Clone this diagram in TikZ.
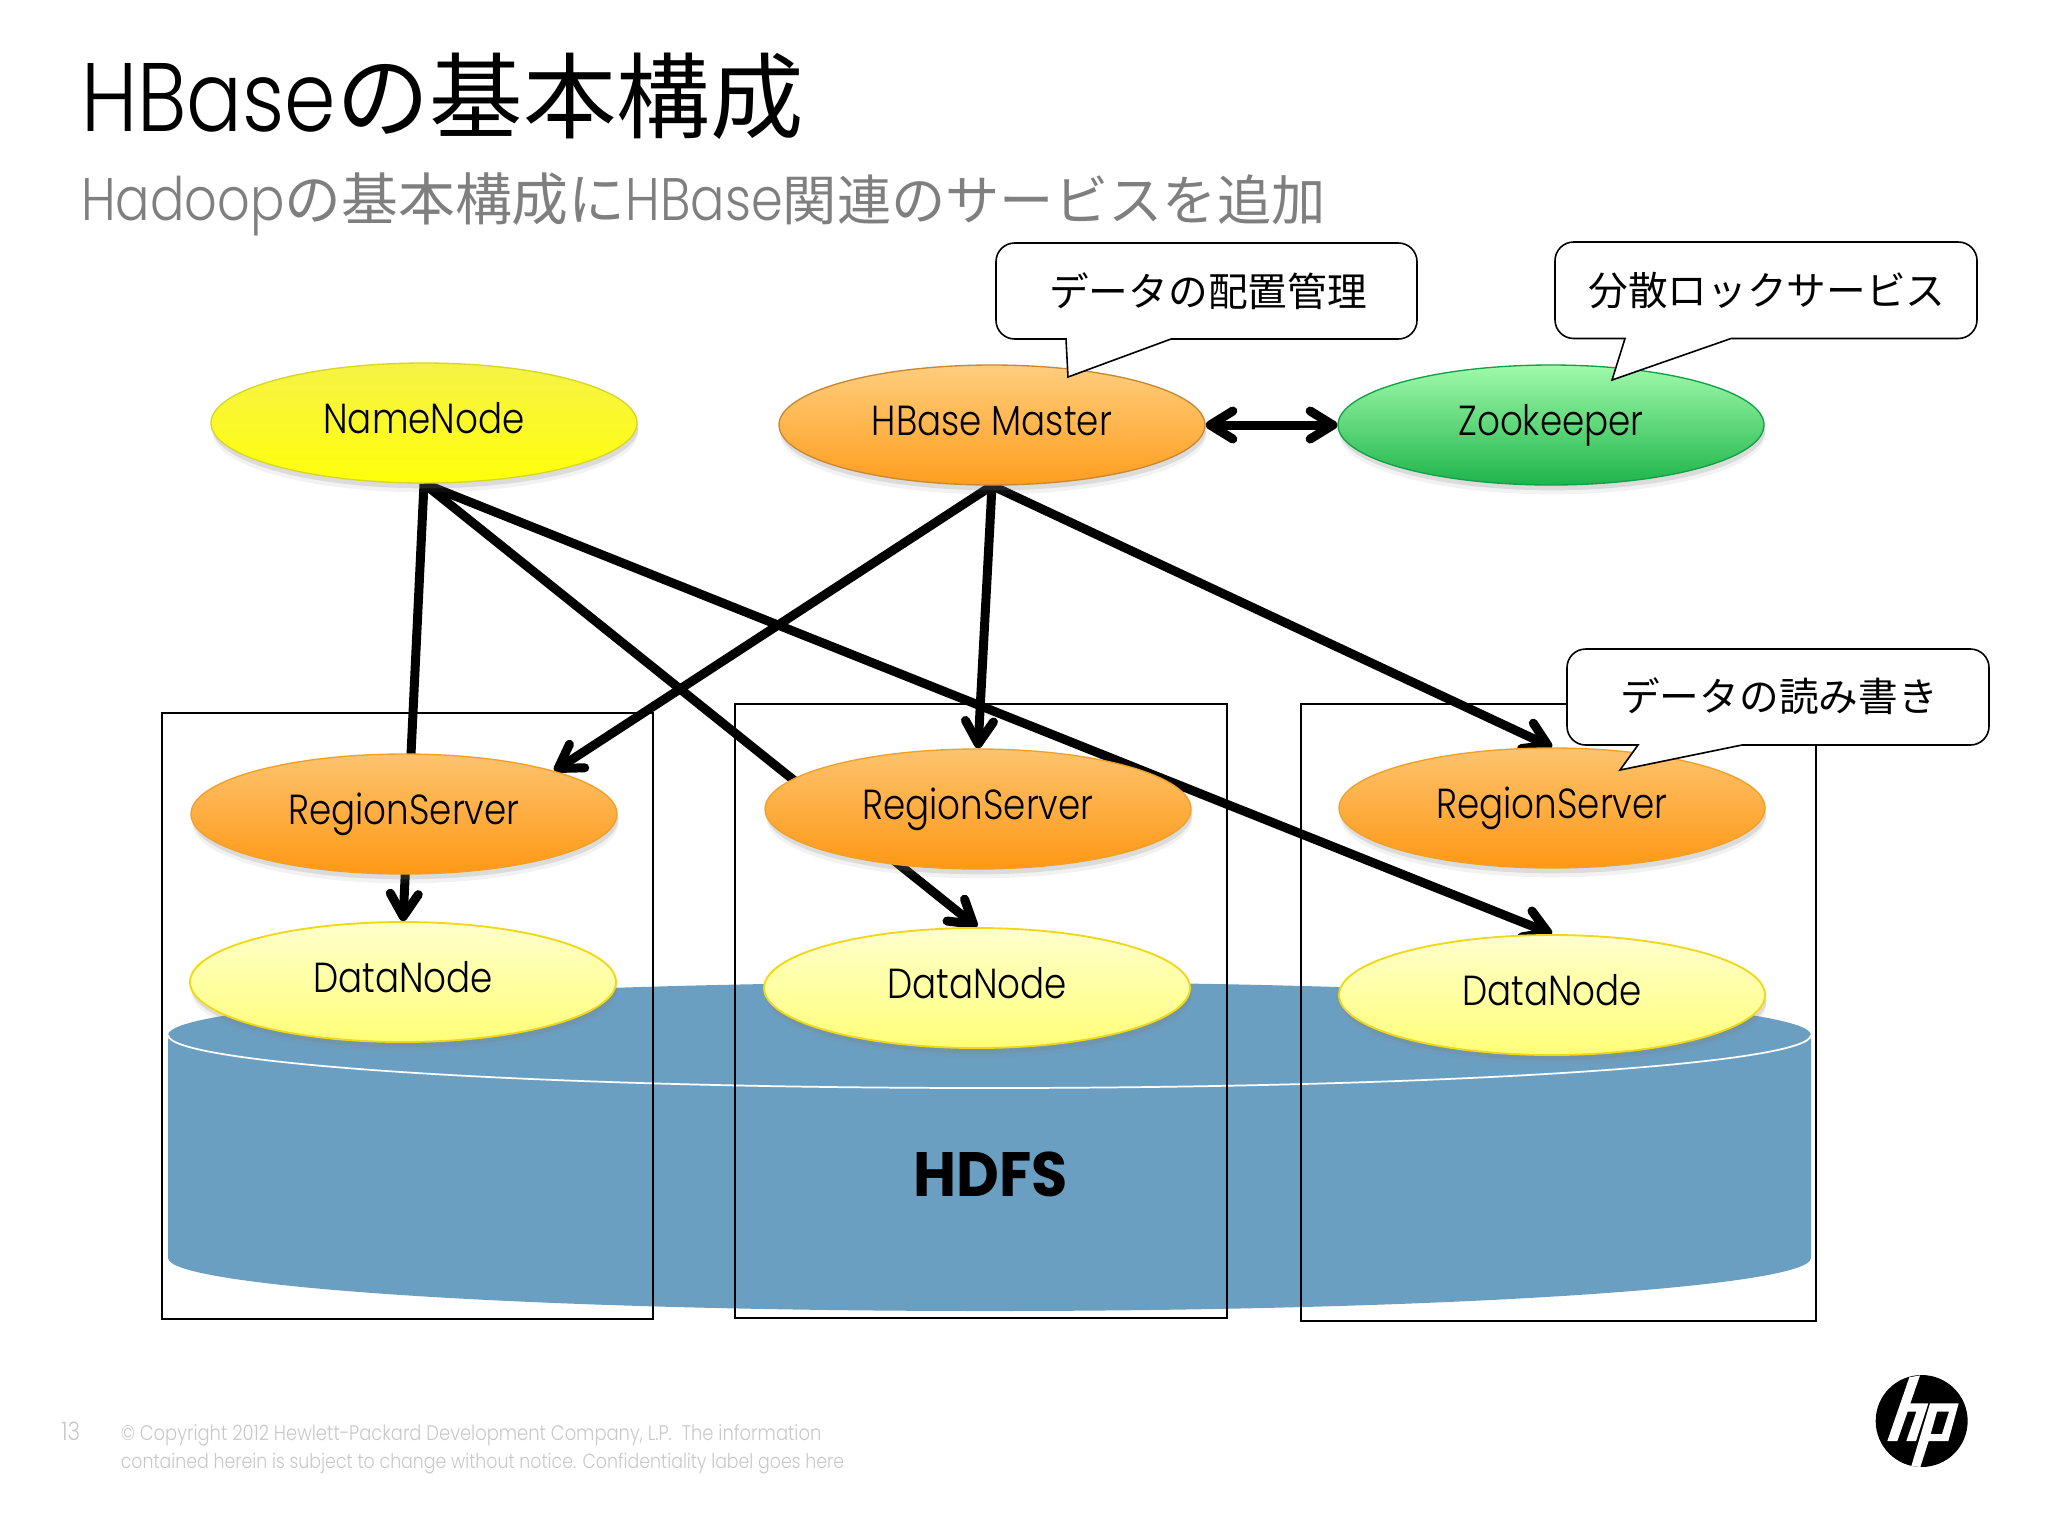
\documentclass[tikz,border=0pt]{standalone}
\usepackage{fontspec}
\setmainfont{Poppins}[UprightFont=* Light,FakeStretch=0.85]
\newfontfamily\hdfsfont{Poppins}[UprightFont=* Bold,FakeStretch=0.94]
\newfontfamily\jpfont{Noto Sans CJK JP}[Scale=0.96]
\usetikzlibrary{arrows.meta,shapes.geometric,shadows,backgrounds}
\definecolor{hdfsblue}{HTML}{6B9FC2}
\definecolor{subgray}{HTML}{7F7F7F}
\definecolor{footgray}{HTML}{C8C8C8}
\tikzset{
  barb/.tip={Straight Barb[length=17pt,width=21pt,round]},
  service/.style={ellipse,minimum width=319.5pt,minimum height=90pt,inner sep=0pt,line width=1pt,
    font=\fontsize{31.5}{36}\selectfont,text height=23.3pt,text depth=7pt,
    drop shadow={shadow xshift=1pt,shadow yshift=-7pt,opacity=0.1},
    drop shadow={shadow xshift=1pt,shadow yshift=-4pt,opacity=0.2}},
  namestyle/.style={service,draw={rgb,255:red,214;green,214;blue,40},top color={rgb,255:red,246;green,242;blue,70},bottom color={rgb,255:red,255;green,255;blue,10}},
  masterstyle/.style={service,draw={rgb,255:red,200;green,135;blue,50},top color={rgb,255:red,255;green,205;blue,125},bottom color={rgb,255:red,255;green,158;blue,30}},
  regionstyle/.style={service,draw={rgb,255:red,240;green,160;blue,40},top color={rgb,255:red,253;green,195;blue,110},bottom color={rgb,255:red,255;green,152;blue,20}},
  datastyle/.style={service,line width=1.4pt,draw={rgb,255:red,240;green,216;blue,24},top color={rgb,255:red,255;green,255;blue,205},bottom color={rgb,255:red,255;green,255;blue,120}},
  zoostyle/.style={service,draw={rgb,255:red,16;green,160;blue,70},top color={rgb,255:red,160;green,250;blue,170},bottom color={rgb,255:red,30;green,180;blue,75}},
  flowarrow/.style={line width=6.75pt,-barb},
  callbox/.style={draw=black,fill=white,line width=1.2pt},
  calltext/.style={inner sep=0pt,font=\fontsize{31}{36}\jpfont},
  groupbox/.style={draw=black,line width=1.3pt},
  foottext/.style={anchor=base west,inner sep=0pt,text=footgray}
}

\begin{document}
\begin{tikzpicture}[x=0.75pt,y=0.75pt,yscale=-1,xscale=1]
\useasboundingbox (0,0) rectangle (2048,1536);

% Title
\node (title) at (81,131) [anchor=base west,inner sep=0pt,font=\fontsize{73}{80}\selectfont] {HBase{\jpfont の基本構成}};
\node (subtitle) at (81,220) [anchor=base west,inner sep=0pt,text=subgray,font=\fontsize{45}{50}\selectfont] {Hadoop{\fontsize{44.4}{50}\jpfont の基本構成に}HBase{\fontsize{42.4}{50}\jpfont 関連のサービスを追加}};

% Services
\node[namestyle] (namenode) at (424,423) {NameNode};
\node[masterstyle] (master) at (992,425) {HBase Master};
\node[zoostyle] (zookeeper) at (1551,425) {Zookeeper};
\node[regionstyle] (region1) at (404,814) {RegionServer};
\node[regionstyle] (region2) at (978,809) {RegionServer};
\node[regionstyle] (region3) at (1552,808) {RegionServer};
\node[datastyle] (data1) at (403,982) {DataNode};
\node[datastyle] (data2) at (977,988) {DataNode};
\node[datastyle] (data3) at (1552,995) {DataNode};

\begin{pgfonlayer}{background}
  % HDFS
  \fill[hdfsblue] (168,1035) arc[start angle=180,end angle=360,x radius=821.5,y radius=53] -- (1811,1258) arc[start angle=0,end angle=180,x radius=821.5,y radius=53] -- cycle;
  \draw[white,line width=1.3pt] (168,1035) arc[start angle=180,end angle=0,x radius=821.5,y radius=53];
  % Server boxes
  \draw[groupbox] (161.7,713) rectangle (653,1319);
  \draw[groupbox] (735,704) rectangle (1227,1318);
  \draw[groupbox] (1301,704) rectangle (1816,1321);
  % Arrows
  \draw[flowarrow] (namenode.south) -- (data1.north);
  \draw[flowarrow] (namenode.south) -- (data2.north);
  \draw[flowarrow] (namenode.south) -- (data3.north);
  \draw[flowarrow] (master.south) -- (region1.16);
  \draw[flowarrow] (master.south) -- (region2.north);
  \draw[flowarrow] (master.south) -- (region3.north);
  \draw[line width=6.75pt,barb-barb] (master.east) -- (zookeeper.west);
\end{pgfonlayer}

\node (hdfs) at (913,1196) [anchor=base west,inner sep=0pt,font=\fontsize{47}{50}\hdfsfont] {HDFS};

% Callouts
\draw[callbox] (1066,339) -- (1068,377) -- (1171,339) [rounded corners=14pt] -- (1417,339) -- (1417,243) -- (996,243) -- (996,339) [sharp corners] -- cycle;
\node[calltext] (callmaster) at (1208,291) {データの配置管理};
\draw[callbox] (1625,338.5) -- (1612,380) -- (1731,338.5) [rounded corners=14pt] -- (1977,338.5) -- (1977,242) -- (1555,242) -- (1555,338.5) [sharp corners] -- cycle;
\node[calltext] (callzoo) at (1767,291) {分散ロックサービス};
\draw[callbox] (1638,745) -- (1620,770) -- (1742,745) [rounded corners=14pt] -- (1989,745) -- (1989,649) -- (1567,649) -- (1567,745) [sharp corners] -- cycle;
\node[calltext] (callregion) at (1779,696) {データの読み書き};

% Footer
\node[foottext,font=\fontsize{19}{20}\selectfont] (pageno) at (61,1440) {13};
\node[foottext,font=\fontsize{15.8}{20}\selectfont] (footone) at (120.5,1440) {© Copyright 2012 Hewlett-Packard Development Company, L.P.\ \ The information};
\node[foottext,font=\fontsize{15.3}{20}\selectfont] (foottwo) at (120.5,1468) {contained herein is subject to change without notice. Confidentiality label goes here};

% Logo
\begin{scope}[shift={(1840,1360)},scale=0.3333]
  \fill[black] (245,183) circle [radius=138];
  \fill[white] (208,52) -- (240,46) -- (211,130) -- (265,130) -- (228,243) -- (199,243) -- (229,155) -- (203,155) -- (172,243) -- (142,243) -- cycle;
  \fill[white,even odd rule] (270,130) -- (356,130) -- (325,243) -- (266,243) -- (241,321) -- (214,318) -- cycle (291,155) -- (272,222) -- (306,222) -- (327,155) -- cycle;
\end{scope}
\end{tikzpicture}
\end{document}
